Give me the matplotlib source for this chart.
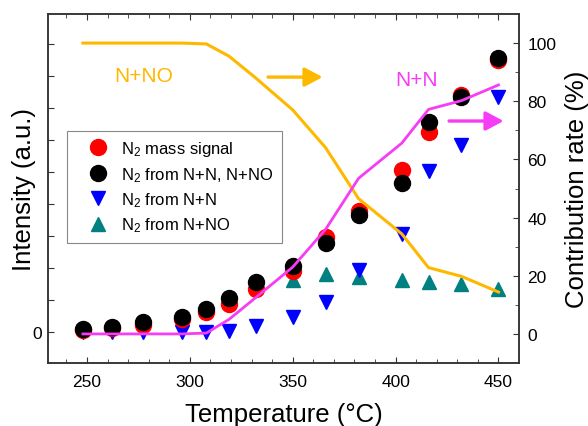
import numpy as np
import matplotlib as mpl
mpl.use('Agg')
import matplotlib.pyplot as plt

mpl.rcParams['font.family'] = ['Liberation Sans', 'DejaVu Sans']
mpl.rcParams['mathtext.fontset'] = 'custom'
mpl.rcParams['mathtext.rm'] = 'Liberation Sans'
mpl.rcParams['mathtext.it'] = 'Liberation Sans:italic'
mpl.rcParams['mathtext.default'] = 'regular'

# temperatures (deg C)
temperature = [248, 262, 277, 296, 308, 319, 332, 350, 366, 382, 403, 416, 432, 450]

# N2 signal, arbitrary units
n2_mass = [0.06, 0.13, 0.22, 0.41, 0.64, 0.88, 1.35, 1.90, 2.98, 3.77, 5.06, 6.26, 7.42, 8.49]
n2_total = [0.09, 0.15, 0.32, 0.46, 0.72, 1.06, 1.56, 2.07, 2.77, 3.65, 4.65, 6.57, 7.36, 8.56]
n2_from_nn = [0.0, 0.0, 0.0, 0.0, 0.0, 0.04, 0.19, 0.47, 0.95, 1.93, 3.05, 5.04, 5.86, 7.33]
temperature_nno = [350, 366, 382, 403, 416, 432, 450]
n2_from_nno = [1.61, 1.82, 1.73, 1.64, 1.56, 1.51, 1.33]

# contribution rate (%)
rate_nn = [0, 0, 0, 0, 0.3, 5.0, 12.5, 23.0, 36.0, 53.5, 65.6, 77.2, 80.2, 85.6]
rate_nno = [100, 100, 100, 100, 99.7, 95.5, 88.0, 77.0, 64.0, 46.5, 34.4, 22.8, 19.8, 14.4]

orange = '#FFB800'
magenta = '#F73CF5'
teal = '#008080'
frame = '#333333'

fig = plt.figure(figsize=(5.88, 4.27), dpi=100)
ax = fig.add_axes([0.0816, 0.1475, 0.8011, 0.8174])
ax2 = ax.twinx()

ax.plot(temperature_nno, n2_from_nno, '^', color=teal, ms=9.5, ls='none', label=r'N$_2$ from N+NO', zorder=2)
ax.plot(temperature, n2_from_nn, 'v', color='#0000FF', ms=9.5, ls='none', label=r'N$_2$ from N+N', zorder=3)
ax.plot(temperature, n2_mass, 'o', color='#FF0000', ms=11.5, ls='none', label=r'N$_2$ mass signal', zorder=4)
ax.plot(temperature, n2_total, 'o', color='black', ms=11.5, ls='none', label=r'N$_2$ from N+N, N+NO', zorder=5)

ax2.plot(temperature, rate_nno, '-', color=orange, lw=2.2)
ax2.plot(temperature, rate_nn, '-', color=magenta, lw=2.0)

ax.set_xlim(231, 460)
ax.set_ylim(-0.97, 9.94)
ax2.set_ylim(-10, 110)

ax.set_xticks([250, 300, 350, 400, 450])
ax.set_xticks(np.arange(240, 460, 10), minor=True)
ax.set_yticks(range(10))
ax.set_yticklabels(['0'] + [''] * 9)
ax2.set_yticks([0, 20, 40, 60, 80, 100])
ax2.set_yticks([10, 30, 50, 70, 90], minor=True)

for a in (ax, ax2):
    for sp in a.spines.values():
        sp.set_color(frame)
        sp.set_linewidth(1.1)
ax.tick_params(axis='x', which='both', direction='in', top=True, color=frame, labelsize=12.5, pad=8)
ax.tick_params(axis='x', which='major', length=4)
ax.tick_params(axis='x', which='minor', length=3)
ax.tick_params(axis='y', which='both', direction='in', length=4, color=frame, labelsize=12.5, pad=4)
ax2.tick_params(axis='y', which='major', direction='in', length=4, color=frame, labelsize=12.5, pad=6)
ax2.tick_params(axis='y', which='minor', direction='in', length=3, color=frame)

ax.set_xlabel('Temperature (°C)', fontsize=18.5, labelpad=9)
ax.set_ylabel('Intensity (a.u.)', fontsize=18.5, labelpad=-2)
ax2.set_ylabel('Contribution rate (%)', fontsize=18.5, labelpad=6)

# labels and arrows pointing to the rate axis
ax2.text(277.5, 89, 'N+NO', color=orange, fontsize=15, ha='center', va='center')
ax2.text(410, 87.6, 'N+N', color=magenta, fontsize=15, ha='center', va='center')
ax2.annotate('', xy=(364.5, 88.3), xytext=(338, 88.3),
             arrowprops=dict(arrowstyle='-|>,head_length=0.6,head_width=0.32', color=orange,
                             lw=2.4, mutation_scale=18, shrinkA=0, shrinkB=0))
ax2.annotate('', xy=(452.5, 73.2), xytext=(426, 73.2),
             arrowprops=dict(arrowstyle='-|>,head_length=0.6,head_width=0.32', color=magenta,
                             lw=2.4, mutation_scale=18, shrinkA=0, shrinkB=0))

handles, labels = ax.get_legend_handles_labels()
order = [2, 3, 1, 0]
leg = ax2.legend([handles[i] for i in order], [labels[i] for i in order],
                 loc='upper left', bbox_to_anchor=(0.040, 0.665), borderaxespad=0,
                 fontsize=12, frameon=True, fancybox=False, edgecolor='#888888', framealpha=1,
                 handletextpad=0.05, labelspacing=0.4, borderpad=0.5, handlelength=2.7)
leg.get_frame().set_linewidth(0.8)

plt.savefig('out.png', dpi=100)
